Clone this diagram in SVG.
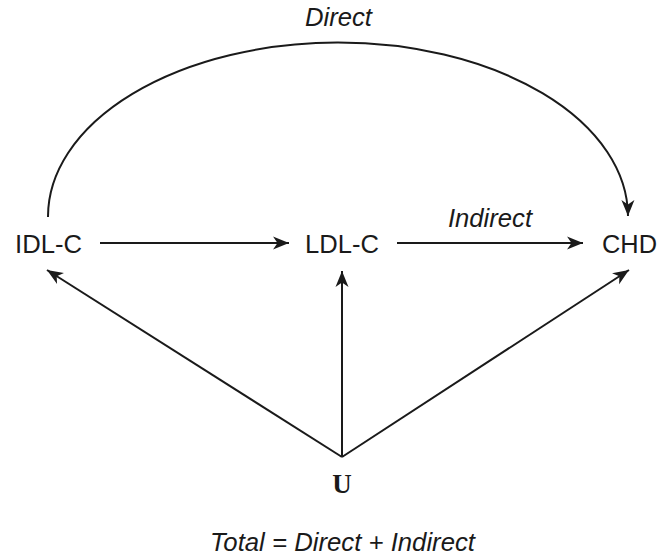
<svg xmlns="http://www.w3.org/2000/svg" width="668" height="559" viewBox="0 0 668 559">
<style>
.lbl{font-family:"Liberation Sans",Arial,sans-serif;font-size:26px;fill:#1a1a1a}
.it{font-style:italic}
.u{font-family:"Liberation Serif","Times New Roman",serif;font-size:27px;font-weight:bold;fill:#1a1a1a}
.edge{fill:none;stroke:#1a1a1a;stroke-width:2;marker-end:url(#ah)}
</style>
<defs>
<marker id="ah" markerUnits="userSpaceOnUse" markerWidth="20" markerHeight="16" viewBox="-17 -8 19 16" refX="0" refY="0" orient="auto">
<path d="M0,0 L-16,-6.5 L-11.5,0 L-16,6.5 Z" fill="#1a1a1a"/>
</marker>
</defs>
<rect width="668" height="559" fill="#ffffff"/>
<g id="connectors">
<path class="edge" d="M48,217 A290,174 0 0 1 628,216"/>
<path class="edge" d="M100,243 L289,243"/>
<path class="edge" d="M397,243 L583,243"/>
<path class="edge" d="M342,457 L47,270"/>
<path class="edge" d="M342,457 L342,271"/>
<path class="edge" d="M342,457 L629,270"/>
</g>
<g id="label-direct"><text class="lbl it" x="338.5" y="26" text-anchor="middle" textLength="67" lengthAdjust="spacingAndGlyphs">Direct</text></g>
<g id="label-indirect"><text class="lbl it" x="490" y="227" text-anchor="middle" textLength="84" lengthAdjust="spacingAndGlyphs">Indirect</text></g>
<g id="node-idlc"><text class="lbl" x="48.5" y="253" text-anchor="middle" textLength="67" lengthAdjust="spacingAndGlyphs">IDL-C</text></g>
<g id="node-ldlc"><text class="lbl" x="342" y="253" text-anchor="middle" textLength="74" lengthAdjust="spacingAndGlyphs">LDL-C</text></g>
<g id="node-chd"><text class="lbl" x="629.5" y="253" text-anchor="middle" textLength="55" lengthAdjust="spacingAndGlyphs">CHD</text></g>
<g id="node-u"><text class="u" x="342" y="493" text-anchor="middle">U</text></g>
<g id="label-total"><text class="lbl it" x="342.5" y="551" text-anchor="middle" textLength="265" lengthAdjust="spacingAndGlyphs">Total = Direct + Indirect</text></g>
</svg>
